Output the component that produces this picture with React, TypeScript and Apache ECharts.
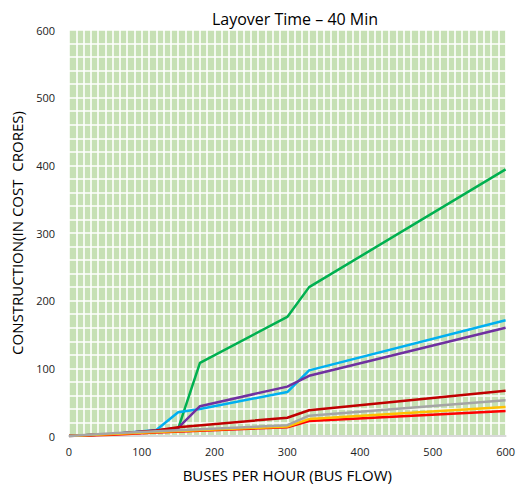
import React, { useEffect, useRef } from "react";
import * as echarts from "echarts";

const title = "Layover Time – 40 Min";
const xAxisTitle = "BUSES PER HOUR (BUS FLOW)";
const yAxisTitle = "CONSTRUCTION(IN COST  CRORES)";

const greenData = [[0, 0], [60, 3], [120, 7], [150, 11], [180, 108], [300, 176], [330, 220], [600, 394]];
const cyanData = [[0, 0], [60, 3], [120, 9], [150, 35], [180, 40], [300, 65], [330, 97], [600, 171]];
const purpleData = [[0, 0], [60, 3], [120, 8], [150, 12], [180, 44], [300, 73], [330, 89], [600, 160]];
const darkRedData = [[0, 0], [60, 3], [120, 8], [150, 13], [300, 27], [330, 38], [600, 67]];
const redData = [[0, 0], [60, 2], [120, 5], [300, 13], [330, 22], [600, 37]];
const yellowData = [[0, 0], [60, 3], [120, 6], [300, 14], [330, 25], [600, 43]];
const grayData = [[0, 0], [60, 4], [120, 7], [300, 16], [330, 30], [600, 53]];

const seriesList = [
  { name: "S1", data: greenData, color: "#00B050" },
  { name: "S2", data: cyanData, color: "#00B0F0" },
  { name: "S3", data: purpleData, color: "#7030A0" },
  { name: "S4", data: darkRedData, color: "#C00000" },
  { name: "S5", data: redData, color: "#FF0000" },
  { name: "S6", data: yellowData, color: "#FFC000" },
  { name: "S7", data: grayData, color: "#A5A5A5" },
];

export default function App() {
  const ref = useRef<HTMLDivElement>(null);
  useEffect(() => {
    if (!ref.current) return;
    const chart = echarts.init(ref.current, undefined, { renderer: "svg" });
    const font = "'Open Sans', 'Noto Sans', sans-serif";
    chart.setOption({
      animation: false,
      title: {
        text: title,
        left: 290,
        top: 6,
        textAlign: "center",
        textStyle: { fontFamily: font, fontSize: 16, fontWeight: "normal", color: "#000" },
      },
      grid: {
        left: 69,
        right: 9,
        top: 30,
        bottom: 52,
        show: true,
        backgroundColor: "#C6E0B4",
        borderWidth: 0,
      },
      xAxis: {
        type: "value",
        min: 0,
        max: 600,
        interval: 100,
        name: xAxisTitle,
        nameLocation: "middle",
        nameGap: 31,
        nameTextStyle: { fontFamily: font, fontSize: 15, color: "#000" },
        axisLabel: { fontFamily: font, fontSize: 11, color: "#222", margin: 10 },
        axisLine: { show: true, onZero: false, lineStyle: { color: "#D9D9D9", width: 2 } },
        axisTick: { show: false },
        splitLine: { show: true, lineStyle: { color: "#FFFFFF", width: 1.6 } },
        minorTick: { show: false, splitNumber: 10 },
        minorSplitLine: { show: true, lineStyle: { color: "#FFFFFF", width: 1.6 } },
      },
      yAxis: {
        type: "value",
        min: 0,
        max: 600,
        interval: 100,
        name: yAxisTitle,
        nameLocation: "middle",
        nameGap: 45,
        nameTextStyle: { fontFamily: font, fontSize: 15, color: "#000" },
        axisLabel: { fontFamily: font, fontSize: 11, color: "#222", margin: 14 },
        axisLine: { show: false },
        axisTick: { show: false },
        splitLine: { show: true, lineStyle: { color: "#FFFFFF", width: 1.6 } },
        minorTick: { show: false, splitNumber: 5 },
        minorSplitLine: { show: true, lineStyle: { color: "#FFFFFF", width: 1.6 } },
      },
      series: seriesList.map((s) => ({
        name: s.name,
        type: "line",
        data: s.data,
        showSymbol: false,
        symbol: "none",
        lineStyle: { color: s.color, width: 2.5 },
        itemStyle: { color: s.color },
      })),
    });
    return () => chart.dispose();
  }, []);
  return (
    <div
      ref={ref}
      style={{ position: "fixed", left: 0, top: 0, width: 518, height: 488, background: "#fff" }}
    />
  );
}
